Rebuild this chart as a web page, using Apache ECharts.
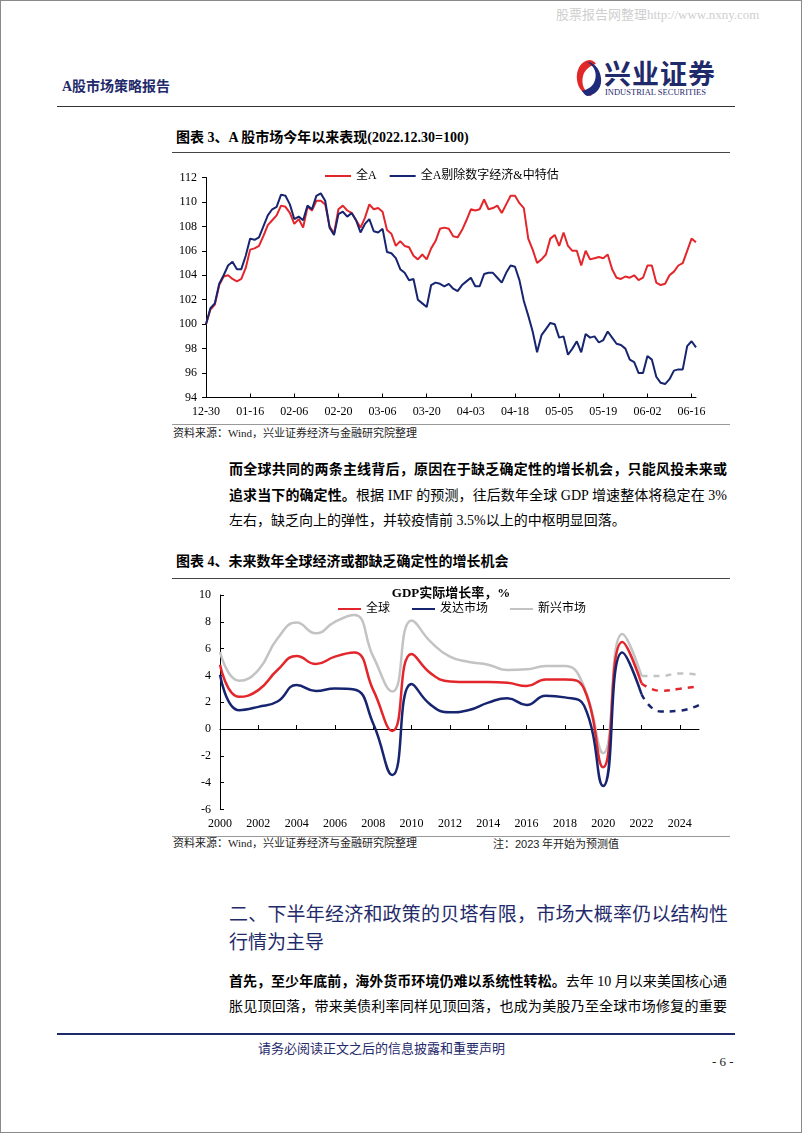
<!DOCTYPE html>
<html><head><meta charset="utf-8">
<script src="https://cdn.jsdelivr.net/npm/echarts@6/dist/echarts.min.js"></script>
<style>
html,body{margin:0;padding:0;background:#fff;}
#page{position:relative;width:802px;height:1133px;overflow:hidden;background:#fff;font-family:"Liberation Serif","Noto Sans CJK SC",serif;color:#000;}
.abs{position:absolute;white-space:nowrap;}
.frame{position:absolute;left:0;top:0;width:800px;height:1131px;border:1px solid #8a8a8a;}
.hl{position:absolute;height:0;}
.just{position:absolute;text-align:justify;text-align-last:justify;white-space:nowrap;}
</style></head>
<body><div id="page">
<div class="frame"></div>
<div class="abs" style="left:556px;top:6px;font-size:13px;color:#cfcfcf;line-height:18px;">股票报告网整理http://www.nxny.com</div>
<div class="abs" style="left:62px;top:78px;font-size:14px;line-height:18px;color:#1f2a6b;font-weight:bold;">A股市场策略报告</div>
<svg class="abs" style="left:574px;top:58px;" width="30" height="40" viewBox="0 0 30 40">
 <path d="M15 2 C5 4 2 14 3 22 C4 32 12 38 18 38 C10 34 7 26 9 18 C11 11 16 8 22 6 C20 3 18 2 15 2 Z" fill="#e02828"/>
 <path d="M14 38 C24 36 28 28 27 20 C26 10 19 4 13 4 C21 8 23 16 21 22 C19 29 14 31 8 33 C10 36 12 38 14 38 Z" fill="#1f2a7a"/>
</svg>
<div class="abs" style="left:604px;top:58px;font-size:27px;line-height:30px;color:#1f2a6b;font-weight:bold;font-family:'Noto Sans CJK SC';letter-spacing:1px;">兴业证券</div>
<div class="abs" style="left:605px;top:87px;font-size:8.5px;line-height:10px;color:#1f2a6b;font-family:'Liberation Serif';">INDUSTRIAL SECURITIES</div>
<div class="hl" style="left:57px;top:106px;width:678px;border-top:1px solid #333;"></div>

<div class="abs" style="left:176px;top:129px;font-size:14px;line-height:18px;font-weight:bold;">图表 3、A 股市场今年以来表现(2022.12.30=100)</div>
<div class="hl" style="left:172px;top:152px;width:558px;border-top:1.5px solid #444;"></div>
<div id="c1" class="abs" style="left:172px;top:158px;width:558px;height:264px;"></div>
<div class="hl" style="left:172px;top:424px;width:558px;border-top:1px solid #999;"></div>
<div class="abs" style="left:173px;top:426px;font-size:11px;line-height:14px;color:#222;">资料来源：Wind，兴业证券经济与金融研究院整理</div>

<div class="just" style="left:229px;top:461px;width:498px;font-size:14px;line-height:18px;"><b>而全球共同的两条主线背后，原因在于缺乏确定性的增长机会，只能风投未来或</b></div>
<div class="just" style="left:229px;top:487px;width:498px;font-size:14px;line-height:18px;"><b>追求当下的确定性。</b>根据 IMF 的预测，往后数年全球 GDP 增速整体将稳定在 3%</div>
<div class="abs" style="left:229px;top:512px;font-size:14px;line-height:18px;">左右，缺乏向上的弹性，并较疫情前 3.5%以上的中枢明显回落。</div>

<div class="abs" style="left:176px;top:553px;font-size:14px;line-height:18px;font-weight:bold;">图表 4、未来数年全球经济或都缺乏确定性的增长机会</div>
<div class="hl" style="left:172px;top:578px;width:558px;border-top:1.5px solid #444;"></div>
<div id="c2" class="abs" style="left:172px;top:580px;width:558px;height:255px;"></div>
<div class="hl" style="left:172px;top:836px;width:558px;border-top:1px solid #999;"></div>
<div class="abs" style="left:173px;top:836px;font-size:11px;line-height:14px;color:#222;">资料来源：Wind，兴业证券经济与金融研究院整理</div>
<div class="abs" style="left:493px;top:836px;font-size:11px;line-height:14px;color:#222;font-family:'Noto Sans CJK SC';">注：<span style="font-family:'Liberation Sans'">2023</span> 年开始为预测值</div>

<div class="just" style="left:229px;top:901px;width:499px;font-size:19px;line-height:24px;color:#1f2a6b;font-family:'Noto Sans CJK SC';">二、下半年经济和政策的贝塔有限，市场大概率仍以结构性</div>
<div class="abs" style="left:229px;top:929px;font-size:19px;line-height:24px;color:#1f2a6b;font-family:'Noto Sans CJK SC';">行情为主导</div>

<div class="just" style="left:229px;top:973px;width:498px;font-size:14px;line-height:18px;"><b>首先，至少年底前，海外货币环境仍难以系统性转松。</b>去年 10 月以来美国核心通</div>
<div class="just" style="left:229px;top:998px;width:498px;font-size:14px;line-height:18px;">胀见顶回落，带来美债利率同样见顶回落，也成为美股乃至全球市场修复的重要</div>

<div class="hl" style="left:57px;top:1033px;width:678px;border-top:2px solid #1f2a6b;"></div>
<div class="abs" style="left:258px;top:1040px;font-size:13px;line-height:16px;color:#1f2a6b;font-family:'Noto Sans CJK SC';">请务必阅读正文之后的信息披露和重要声明</div>
<div class="abs" style="left:712px;top:1054px;font-size:13px;line-height:16px;color:#222;">- 6 -</div>
</div>
<script>
// ---------- Chart 3 data ----------
const dates = ['12-30','01-03','01-04','01-05','01-06','01-09','01-10','01-11','01-12','01-13','01-16','01-17','01-18','01-19','01-20','01-30','01-31','02-01','02-02','02-03','02-06','02-07','02-08','02-09','02-10','02-13','02-14','02-15','02-16','02-17','02-20','02-21','02-22','02-23','02-24','02-27','02-28','03-01','03-02','03-03','03-06','03-07','03-08','03-09','03-10','03-13','03-14','03-15','03-16','03-17','03-20','03-21','03-22','03-23','03-24','03-27','03-28','03-29','03-30','03-31','04-03','04-04','04-06','04-07','04-10','04-11','04-12','04-13','04-14','04-17','04-18','04-19','04-20','04-21','04-24','04-25','04-26','04-27','04-28','05-04','05-05','05-08','05-09','05-10','05-11','05-12','05-15','05-16','05-17','05-18','05-19','05-22','05-23','05-24','05-25','05-26','05-29','05-30','05-31','06-01','06-02','06-05','06-06','06-07','06-08','06-09','06-12','06-13','06-14','06-15','06-16','06-19'];
const allA = [100,101.2,101.6,103.2,103.9,104.0,103.7,103.5,103.7,104.6,
 106.1,106.2,106.4,107.2,108.1,108.5,108.9,109.7,109.6,109.1,
 108.2,108.6,107.9,109.6,109.3,110.1,110.1,109.8,108.0,107.4,
 109.4,109.7,109.3,109.1,108.5,107.9,108.7,109.8,109.4,109.5,
 109.2,107.7,107.4,106.4,106.8,106.4,106.3,105.6,105.3,105.7,
 105.3,106.2,106.8,107.8,107.9,107.8,107.2,107.1,107.7,108.5,
 109.4,109.3,109.4,110.2,109.4,109.5,109.7,109.1,109.8,110.5,
 110.5,109.9,109.5,107.0,106.1,105.0,105.3,105.7,107.0,107.3,
 106.4,107.5,106.4,106.0,106.0,104.8,106.0,105.3,105.4,105.5,
 105.4,105.7,104.5,103.8,103.7,103.9,103.8,104.0,103.6,103.8,
 104.8,104.8,103.4,103.2,103.3,104.0,104.3,104.8,105.0,106.0,
 107.0,106.7];
const allAEx = [100,101.3,101.7,103.3,104.0,104.8,105.1,104.5,104.5,105.6,
 107.0,106.9,107.1,108.0,108.9,109.4,109.6,110.6,110.5,109.8,
 108.6,108.8,108.5,109.7,109.4,110.5,110.7,110.1,107.9,107.3,
 109.0,109.2,108.8,109.1,108.5,107.5,108.2,108.6,107.6,107.5,
 107.8,105.9,105.8,105.4,104.5,104.2,103.6,103.7,102.0,101.7,
 101.4,103.2,103.4,103.3,103.1,103.3,102.9,102.7,103.2,103.5,
 103.8,103.1,103.1,104.1,104.2,104.2,103.8,103.4,104.2,104.8,
 104.7,103.6,101.9,100.7,99.4,97.7,99.1,99.6,100.1,100.0,
 98.9,99.0,97.5,98.0,98.6,97.7,99.2,98.9,99.0,98.5,
 98.7,99.4,98.9,98.4,98.3,98.0,97.1,96.9,96.0,96.0,
 97.4,97.1,95.7,95.2,95.1,95.5,96.2,96.3,96.3,98.2,
 98.6,98.1];
const names1 = ['全A','全A剔除数字经济&中特估'];

// ---------- Chart 4 data ----------
const years = ['2000','2001','2002','2003','2004','2005','2006','2007','2008','2009','2010','2011','2012','2013','2014','2015','2016','2017','2018','2019','2020','2021','2022','2023','2024','2025'];
const worldHist = [4.8,2.4,2.9,4.4,5.45,4.85,5.4,5.7,2.9,-0.15,5.6,4.15,3.55,3.5,3.5,3.45,3.2,3.7,3.7,3.0,-2.85,6.5,3.4];
const worldFcst = [3.4,2.85,3.0,3.2];
const advHist = [4.05,1.4,1.65,2.05,3.28,2.84,3.03,2.95,0.4,-3.43,3.36,1.8,1.25,1.42,1.97,2.29,1.8,2.49,2.36,1.75,-4.25,5.7,2.6];
const advFcst = [2.6,1.3,1.37,1.79];
const emHist = [5.75,3.6,4.4,6.75,7.94,7.14,8.0,8.5,5.4,2.8,8.1,6.5,5.4,5.0,4.8,4.4,4.45,4.7,4.7,3.16,-1.8,7.09,3.96];
const emFcst = [3.96,3.96,4.15,4.03];
const names2 = ['全球','发达市场','新兴市场'];
const chart2Title = 'GDP实际增长率，%';

const RED = '#e3262b', BLUE = '#17246f', GRAY = '#c3c3c3';
const CJK = "'Liberation Serif','Noto Sans CJK SC'";
const NUM = "'Liberation Serif'";

const c1 = echarts.init(document.getElementById('c1'), null, {renderer:'canvas'});
c1.setOption({
  animation:false,
  grid:{left:34,right:34,top:19.5,height:220},
  legend:{left:148,top:7,icon:'rect',itemWidth:26,itemHeight:2,itemGap:13,
    textStyle:{fontSize:12,color:'#000',fontFamily:CJK},data:names1},
  xAxis:{type:'category',boundaryGap:false,data:dates,
    axisLine:{lineStyle:{color:'#000',width:1}},
    axisTick:{inside:true,interval:9,length:4,lineStyle:{color:'#000'}},
    axisLabel:{interval:9,color:'#000',fontSize:12,fontFamily:NUM,margin:8}},
  yAxis:{type:'value',min:94,max:112,interval:2,
    axisLine:{show:true,lineStyle:{color:'#000'}},
    axisTick:{show:true,length:4,lineStyle:{color:'#000'}},
    axisLabel:{color:'#000',fontSize:12,fontFamily:NUM,margin:9},
    splitLine:{show:false}},
  series:[
    {name:names1[0],type:'line',data:allA,symbol:'none',lineStyle:{color:RED,width:2},itemStyle:{color:RED}},
    {name:names1[1],type:'line',data:allAEx,symbol:'none',lineStyle:{color:BLUE,width:2},itemStyle:{color:BLUE}}
  ]
});

function pad(hist){ return hist.concat(new Array(years.length-hist.length).fill(null)); }
function padF(f){ return new Array(years.length-f.length).fill(null).concat(f); }

const c2 = echarts.init(document.getElementById('c2'), null, {renderer:'canvas'});
c2.setOption({
  animation:false,
  title:{text:chart2Title,left:'center',top:2,textStyle:{fontSize:13,fontWeight:'bold',color:'#000',fontFamily:CJK}},
  grid:{left:48,right:31,top:15,height:214.4},
  legend:{left:161,top:18,icon:'rect',itemWidth:23,itemHeight:2,itemGap:22,
    textStyle:{fontSize:12,color:'#000',fontFamily:CJK},data:names2},
  xAxis:[
    {type:'category',boundaryGap:false,data:years,
     axisLine:{onZero:true,lineStyle:{color:'#000'}},
     axisTick:{inside:true,interval:1,length:4,lineStyle:{color:'#000'}},
     axisLabel:{show:false}},
    {type:'category',boundaryGap:false,data:years,position:'bottom',
     axisLine:{show:false,onZero:false},axisTick:{show:false},
     axisLabel:{interval:1,color:'#000',fontSize:12,fontFamily:NUM,margin:8}}
  ],
  yAxis:{type:'value',min:-6,max:10,interval:2,
    axisLine:{show:true,lineStyle:{color:'#000'}},
    axisTick:{show:true,inside:true,length:4,lineStyle:{color:'#000'}},
    axisLabel:{color:'#000',fontSize:12,fontFamily:NUM,margin:9},
    splitLine:{show:false}},
  series:[
    {name:names2[2],type:'line',data:pad(emHist),smooth:true,symbol:'none',lineStyle:{color:GRAY,width:2.5},itemStyle:{color:GRAY}},
    {name:names2[0],type:'line',data:pad(worldHist),smooth:true,symbol:'none',lineStyle:{color:RED,width:2.5},itemStyle:{color:RED}},
    {name:names2[1],type:'line',data:pad(advHist),smooth:true,symbol:'none',lineStyle:{color:BLUE,width:2.5},itemStyle:{color:BLUE}},
    {name:'新兴市场预测',type:'line',data:padF(emFcst),smooth:true,symbol:'none',lineStyle:{color:GRAY,width:2.5,type:[6,6]}},
    {name:'全球预测',type:'line',data:padF(worldFcst),smooth:true,symbol:'none',lineStyle:{color:RED,width:2.5,type:[6,6]}},
    {name:'发达市场预测',type:'line',data:padF(advFcst),smooth:true,symbol:'none',lineStyle:{color:BLUE,width:2.5,type:[6,6]}}
  ]
});
</script>
</body></html>
